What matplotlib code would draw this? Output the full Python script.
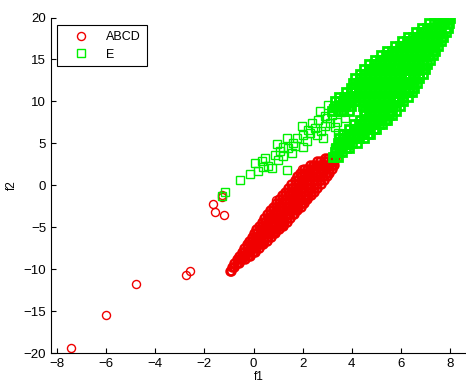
import matplotlib
matplotlib.use("Agg")
import matplotlib.pyplot as plt

plt.rcParams['font.family'] = ['Liberation Sans', 'DejaVu Sans']

# ---- data ----
abcd_out_x = [-7.45, -6.02, -4.78, -2.75, -2.58, -1.65, -1.57, -1.19, -1.3, -1.27,
              0.54, 0.9, 1.49, 1.96, 1.99, 2.44]
abcd_out_y = [-19.35, -15.5, -11.75, -10.7, -10.25, -2.25, -3.2, -3.5, -1.35, -1.2,
              -4.4, -1.8, -0.95, 1.25, 1.9, 2.3]

abcd_band_rows = [
    (-10.2, [-0.97, -0.93]),
    (-9.75, [-0.88, -0.8]),
    (-9.3, [-0.79, -0.68, -0.58]),
    (-8.85, [-0.68, -0.57, -0.46, -0.36]),
    (-8.4, [-0.58, -0.46, -0.34, -0.23, -0.15]),
    (-7.95, [-0.48, -0.37, -0.25, -0.13, -0.02, 0.07]),
    (-7.5, [-0.38, -0.26, -0.14, -0.02, 0.1, 0.22]),
    (-7.05, [-0.28, -0.16, -0.04, 0.08, 0.2, 0.32, 0.4]),
    (-6.6, [-0.18, -0.06, 0.07, 0.19, 0.31, 0.43, 0.54]),
    (-6.15, [-0.08, 0.05, 0.18, 0.31, 0.44, 0.57, 0.7]),
    (-5.7, [0.02, 0.15, 0.28, 0.41, 0.54, 0.67, 0.79, 0.88]),
    (-5.25, [0.12, 0.25, 0.38, 0.51, 0.64, 0.77, 0.9, 1.02]),
    (-4.8, [0.22, 0.35, 0.48, 0.61, 0.74, 0.87, 0.99, 1.12, 1.19]),
    (-4.35, [0.33, 0.46, 0.59, 0.72, 0.85, 0.98, 1.11, 1.24, 1.35]),
    (-3.9, [0.44, 0.57, 0.7, 0.83, 0.96, 1.09, 1.22, 1.35, 1.48]),
    (-3.45, [0.55, 0.68, 0.81, 0.94, 1.07, 1.2, 1.33, 1.46, 1.59, 1.66]),
    (-3.0, [0.67, 0.8, 0.93, 1.06, 1.19, 1.32, 1.45, 1.58, 1.71, 1.79]),
    (-2.55, [0.79, 0.92, 1.05, 1.18, 1.31, 1.44, 1.57, 1.7, 1.83, 1.92]),
    (-2.1, [0.92, 1.05, 1.18, 1.31, 1.44, 1.57, 1.7, 1.83, 1.96, 2.06]),
    (-1.65, [1.04, 1.17, 1.3, 1.43, 1.56, 1.69, 1.82, 1.95, 2.08, 2.19]),
    (-1.2, [1.17, 1.3, 1.43, 1.56, 1.69, 1.82, 1.95, 2.08, 2.21, 2.33]),
    (-0.75, [1.29, 1.42, 1.55, 1.68, 1.81, 1.94, 2.07, 2.2, 2.33, 2.47]),
    (-0.3, [1.42, 1.55, 1.68, 1.81, 1.94, 2.07, 2.2, 2.33, 2.46, 2.6]),
    (0.15, [1.54, 1.67, 1.8, 1.93, 2.06, 2.19, 2.32, 2.45, 2.58, 2.74]),
    (0.6, [1.67, 1.8, 1.93, 2.06, 2.19, 2.32, 2.45, 2.58, 2.71, 2.86]),
    (1.05, [1.79, 1.92, 2.05, 2.18, 2.31, 2.44, 2.57, 2.7, 2.83, 2.99]),
    (1.5, [1.91, 2.04, 2.17, 2.3, 2.43, 2.56, 2.69, 2.82, 2.95, 3.09]),
    (1.95, [2.04, 2.17, 2.3, 2.43, 2.56, 2.69, 2.82, 2.95, 3.09, 3.21]),
    (2.4, [2.28, 2.41, 2.54, 2.67, 2.8, 2.93, 3.06, 3.19, 3.29]),
    (2.85, [2.58, 2.72, 2.86, 3.0, 3.14, 3.28]),
    (3.25, [2.9, 3.05, 3.2, 3.32]),
]

e_sparse_x = [-1.3, -1.16, -0.55, -0.14, 0.2, 0.33, 0.47, 0.6, 0.74, 0.88, 1.08, 1.21,
              1.35, 1.35, 1.42, 1.69, 1.76, 1.96, 2.03, 2.17, 2.3, 2.5, 2.64, 2.71,
              2.84, 2.91, 3.18, 3.25, 3.45, 3.32, 3.39, 3.59, 3.73, 3.86, 3.0, 3.4,
              3.55, 3.1, 3.7, 0.05, 0.95, 1.55, 2.6, 3.05,
              1.0, 1.6, 2.2, 2.4, 2.9, 3.3, 3.5, 2.0, 1.2, 0.4, 2.75, 3.6]
e_sparse_y = [-1.25, -0.85, 0.6, 1.33, 1.65, 2.85, 3.25, 2.25, 2.05, 3.64, 4.04, 3.44,
              1.85, 5.63, 4.44, 4.64, 5.63, 7.02, 6.03, 5.23, 6.23, 6.83, 7.82, 8.81,
              5.63, 7.02, 8.42, 9.22, 6.23, 4.44, 3.44, 9.82, 8.02, 4.84, 8.0, 7.5,
              8.7, 7.4, 9.0, 2.6, 4.9, 3.9, 6.0, 9.6,
              3.0, 5.0, 6.6, 7.4, 8.3, 7.0, 9.3, 4.6, 4.6, 2.2, 6.5, 5.6]

e_band_rows = [
    (3.4, [3.25, 3.42]),
    (3.95, [3.3, 3.48, 3.62]),
    (4.5, [3.35, 3.55, 3.75, 3.9]),
    (5.05, [3.42, 3.62, 3.82, 4.02, 4.2]),
    (5.6, [3.5, 3.7, 3.9, 4.1, 4.3, 4.5]),
    (6.15, [3.65, 3.85, 4.05, 4.25, 4.45, 4.65, 4.75]),
    (6.7, [3.9, 4.1, 4.3, 4.5, 4.7, 4.9, 5.0]),
    (7.25, [4.1, 4.3, 4.5, 4.7, 4.9, 5.1, 5.25]),
    (7.8, [4.35, 4.55, 4.75, 4.95, 5.15, 5.35, 5.45]),
    (8.35, [4.5, 4.7, 4.9, 5.1, 5.3, 5.5, 5.65]),
    (8.9, [3.2, 3.42, 3.65, 3.88, 4.55, 4.75, 4.95, 5.15, 5.35, 5.55, 5.8]),
    (9.45, [3.3, 3.5, 3.72, 3.95, 4.45, 4.65, 4.85, 5.05, 5.25, 5.45, 5.65, 5.95]),
    (10.0, [3.3, 3.5, 3.7, 3.9, 4.1, 4.3, 4.5, 4.7, 4.9, 5.1, 5.3, 5.5, 5.7, 5.9, 6.1]),
    (10.55, [3.5, 3.7, 3.9, 4.1, 4.3, 4.5, 4.7, 4.9, 5.1, 5.3, 5.5, 5.7, 5.9, 6.1, 6.3]),
    (11.1, [3.75, 3.95, 4.15, 4.35, 4.55, 4.75, 4.95, 5.15, 5.35, 5.55, 5.75, 5.95, 6.15, 6.35, 6.45]),
    (11.65, [3.95, 4.15, 4.35, 4.55, 4.75, 4.95, 5.15, 5.35, 5.55, 5.75, 5.95, 6.15, 6.35, 6.55]),
    (12.2, [4.05, 4.25, 4.45, 4.65, 4.85, 5.05, 5.25, 5.45, 5.65, 5.85, 6.05, 6.25, 6.45, 6.65]),
    (12.75, [4.15, 4.35, 4.55, 4.75, 4.95, 5.15, 5.35, 5.55, 5.75, 5.95, 6.15, 6.35, 6.55, 6.75]),
    (13.3, [4.35, 4.55, 4.75, 4.95, 5.15, 5.35, 5.55, 5.75, 5.95, 6.15, 6.35, 6.55, 6.75, 6.9]),
    (13.85, [4.5, 4.7, 4.9, 5.1, 5.3, 5.5, 5.7, 5.9, 6.1, 6.3, 6.5, 6.7, 6.9, 7.0]),
    (14.4, [4.7, 4.9, 5.1, 5.3, 5.5, 5.7, 5.9, 6.1, 6.3, 6.5, 6.7, 6.9, 7.08]),
    (14.95, [4.95, 5.15, 5.35, 5.55, 5.75, 5.95, 6.15, 6.35, 6.55, 6.75, 6.95, 7.2]),
    (15.5, [5.2, 5.4, 5.6, 5.8, 6.0, 6.2, 6.4, 6.6, 6.8, 7.0, 7.15, 7.3]),
    (16.05, [5.45, 5.65, 5.85, 6.05, 6.25, 6.45, 6.65, 6.85, 7.05, 7.25, 7.4]),
    (16.6, [5.75, 5.95, 6.15, 6.35, 6.55, 6.75, 6.95, 7.15, 7.35, 7.5]),
    (17.15, [6.05, 6.25, 6.45, 6.65, 6.85, 7.05, 7.25, 7.45, 7.62]),
    (17.7, [6.3, 6.5, 6.7, 6.9, 7.1, 7.3, 7.5, 7.72]),
    (18.25, [6.6, 6.8, 7.0, 7.2, 7.4, 7.6, 7.82]),
    (18.8, [6.85, 7.05, 7.25, 7.45, 7.65, 7.9]),
    (19.35, [7.15, 7.35, 7.55, 7.75, 7.97]),
    (19.9, [7.5, 7.7, 7.88, 8.0]),
]

x_ticks = [-8, -6, -4, -2, 0, 2, 4, 6, 8]
y_ticks = [-20, -15, -10, -5, 0, 5, 10, 15, 20]
series_labels = ['ABCD', 'E']

# ---- assemble ----
abcd_bx, abcd_by = [], []
for yv, xs in abcd_band_rows:
    abcd_bx += xs
    abcd_by += [yv] * len(xs)

e_bx, e_by = [], []
for yv, xs in e_band_rows:
    e_bx += xs
    e_by += [yv] * len(xs)

RED = '#f00000'
GREEN = '#00f000'

W, H = 466, 383
fig = plt.figure(figsize=(W / 100, H / 100), dpi=100)
ax = fig.add_axes([51 / W, 1 - 353 / H, (W - 51) / W, (353 - 17.5) / H])

ax.plot(abcd_bx, abcd_by, 'o', mfc='none', mec=RED, ms=5.8, mew=1.7, linestyle='none')
ax.plot(abcd_out_x, abcd_out_y, 'o', mfc='none', mec=RED, ms=5.8, mew=1.0,
        label=series_labels[0], linestyle='none')
ax.plot(e_bx, e_by, 's', mfc='none', mec=GREEN, ms=6.3, mew=2.0, linestyle='none')
ax.plot(e_sparse_x, e_sparse_y, 's', mfc='none', mec=GREEN, ms=6.3, mew=1.0,
        label=series_labels[1], linestyle='none')

ax.set_xlim(-8.244, 8.651)
ax.set_ylim(-20, 20)
ax.set_xticks(x_ticks)
ax.set_yticks(y_ticks)
ax.tick_params(direction='in', length=3.5, width=0.8, labelsize=9.5, pad=3.5,
               top=False, right=False)
for s in ['top', 'right']:
    ax.spines[s].set_visible(False)
for s in ['left', 'bottom']:
    ax.spines[s].set_linewidth(0.8)

ax.set_xlabel('f1', fontsize=8.5, labelpad=1)
ax.set_ylabel('f2', fontsize=8.5, labelpad=4)

leg = ax.legend(loc='upper left', bbox_to_anchor=(6 / 415, 1 - 8 / 336),
                borderaxespad=0, fancybox=False, edgecolor='black',
                framealpha=1, fontsize=9, borderpad=0.45, handlelength=3.0,
                handletextpad=0.5, labelspacing=0.45)
leg.get_frame().set_linewidth(0.8)

fig.savefig('out.png', dpi=100)
